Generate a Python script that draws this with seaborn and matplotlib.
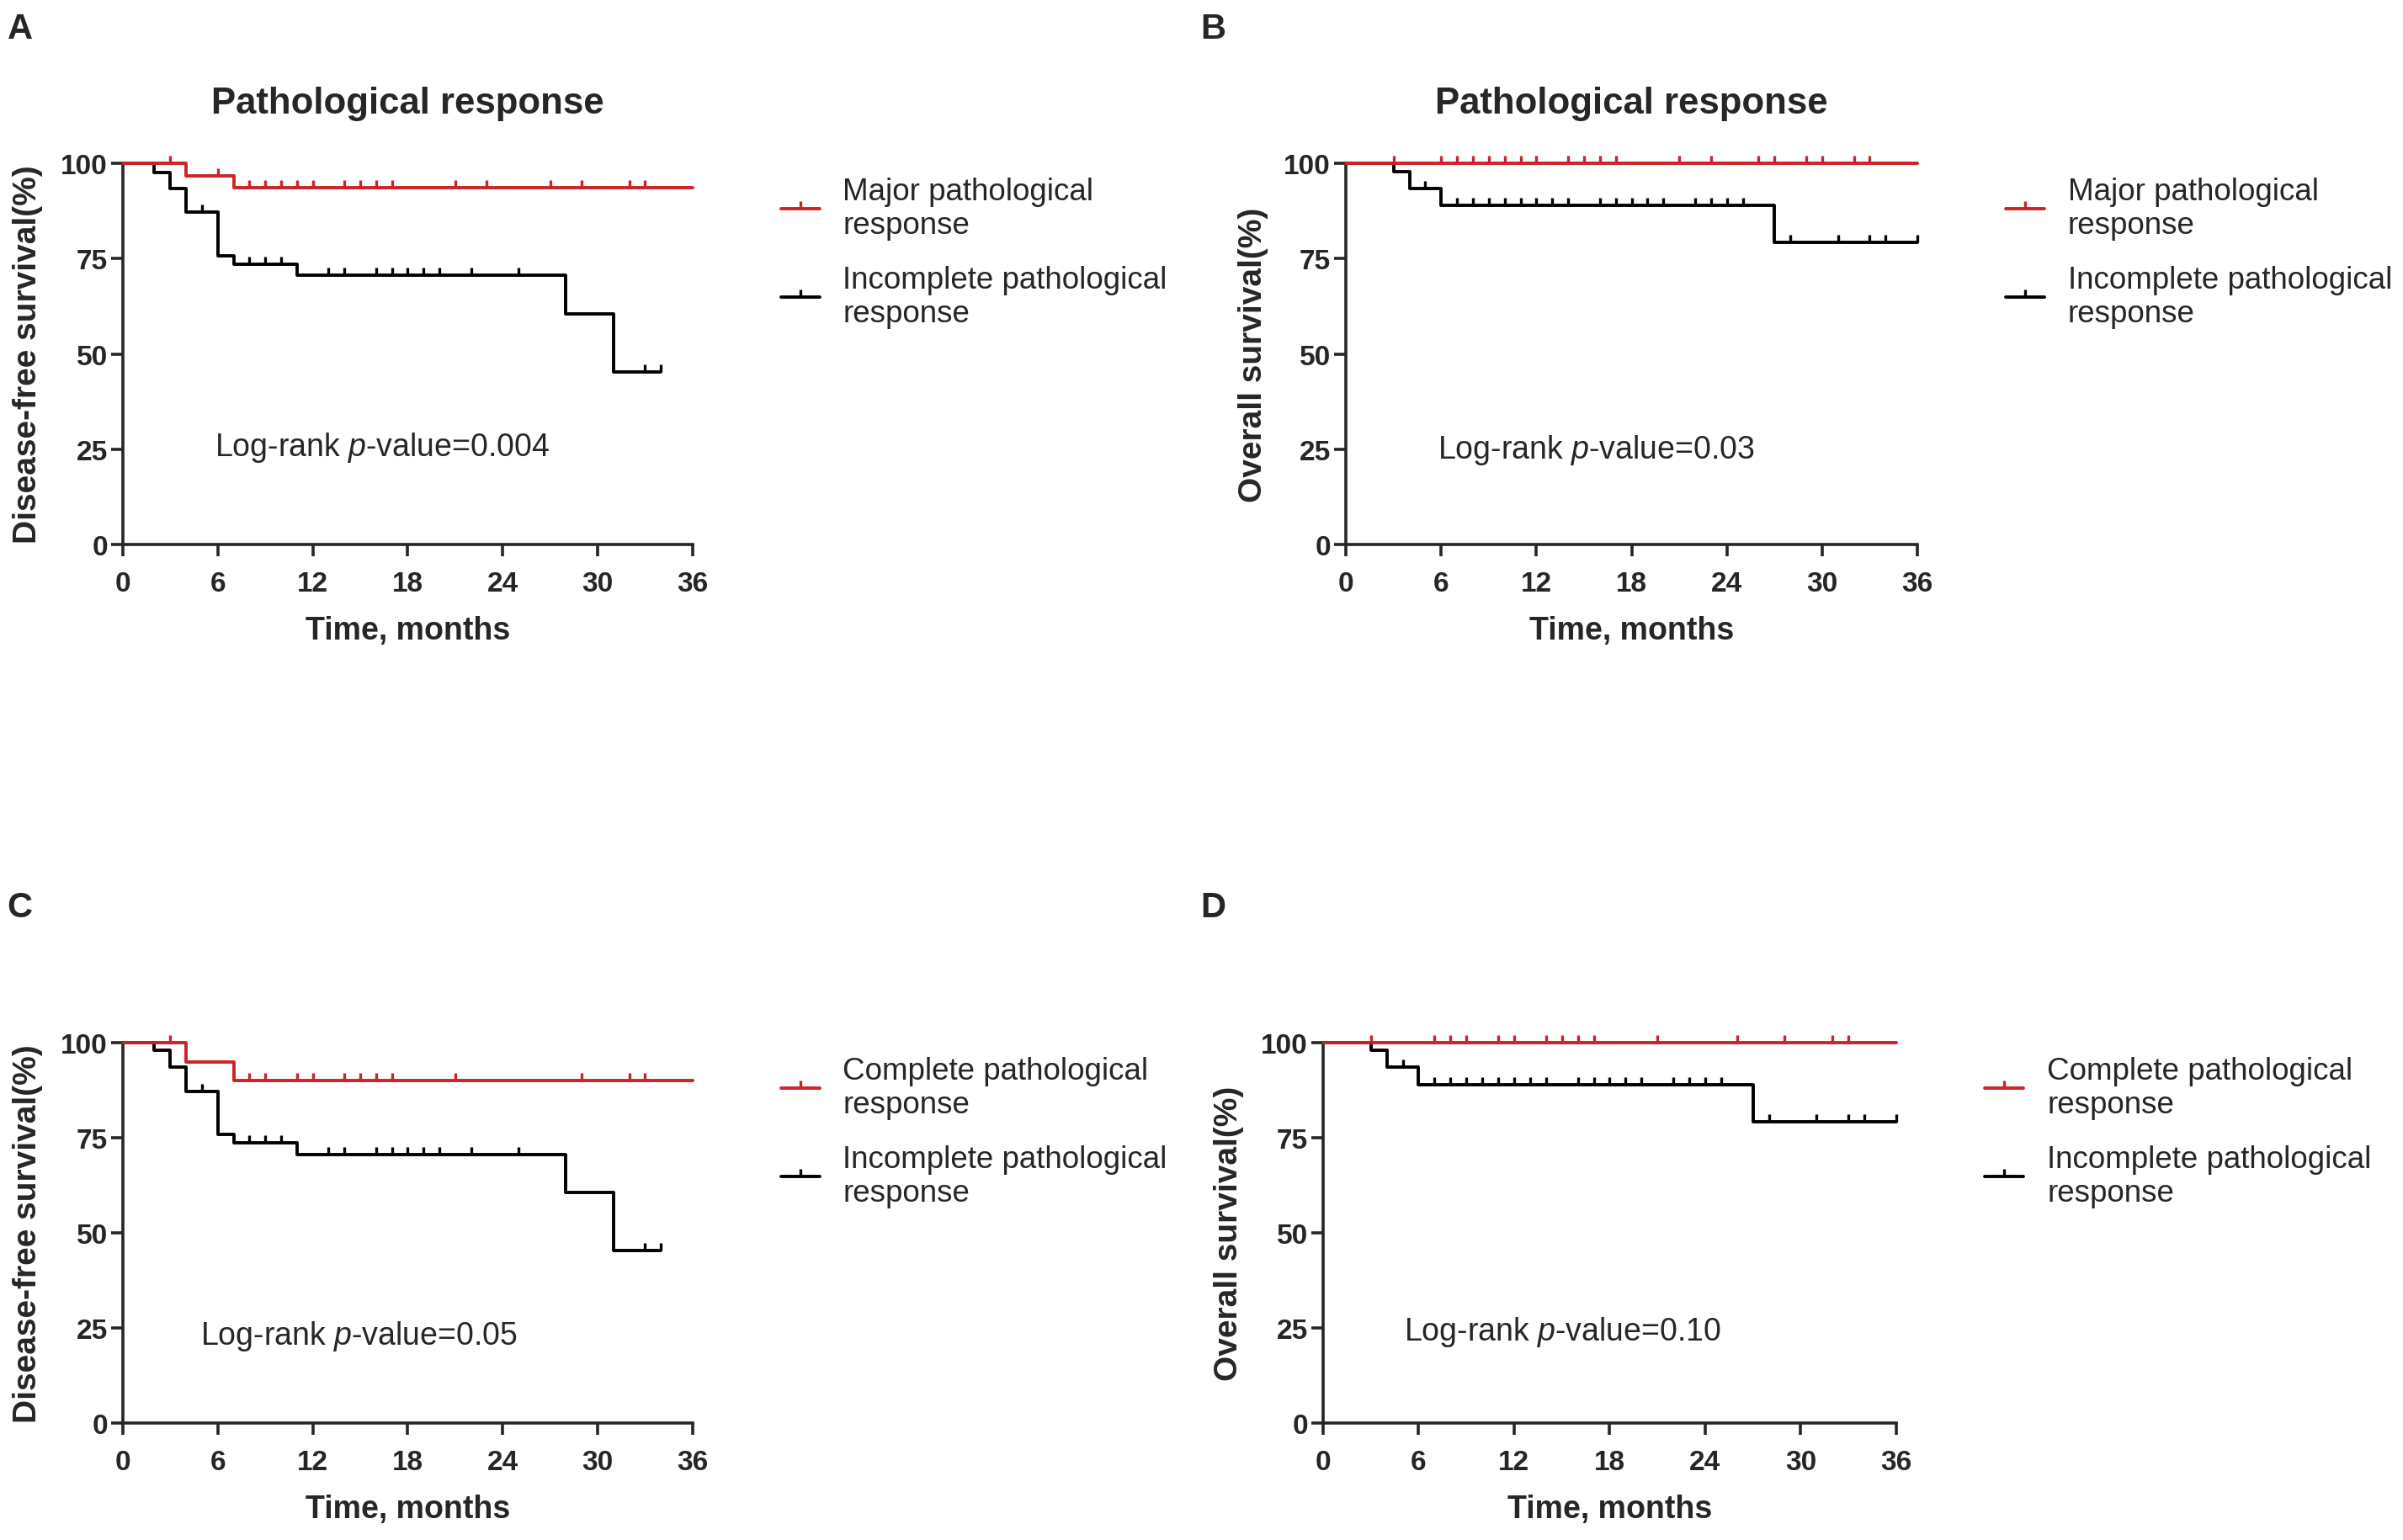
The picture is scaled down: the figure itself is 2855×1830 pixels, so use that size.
import numpy as np
import pandas as pd
import matplotlib
matplotlib.use("Agg")
import matplotlib.pyplot as plt
from matplotlib.path import Path
from matplotlib.lines import Line2D
import seaborn as sns

# Kaplan-Meier step curves (time in months, survival in %)
# Panel A: disease-free survival, major vs incomplete pathological response
A_red_time = [0, 4, 7, 36]
A_red_surv = [100, 96.8, 93.6, 93.6]
A_red_cens = [3, 6, 8, 9, 10, 11, 12, 14, 15, 16, 17, 21, 23, 27, 29, 32, 33]
A_blk_time = [0, 2, 3, 4, 6, 7, 11, 28, 31, 34]
A_blk_surv = [100, 97.7, 93.4, 87.2, 75.8, 73.6, 70.7, 60.6, 45.4, 45.4]
A_blk_cens = [5, 8, 9, 10, 13, 14, 16, 17, 18, 19, 20, 22, 25, 33, 34]

# Panel B: overall survival, major vs incomplete
B_red_time = [0, 36]
B_red_surv = [100, 100]
B_red_cens = [3, 6, 7, 8, 9, 10, 11, 12, 14, 15, 16, 17, 21, 23, 26, 27, 29, 30, 32, 33]
B_blk_time = [0, 3, 4, 6, 27, 36]
B_blk_surv = [100, 97.8, 93.4, 89.0, 79.3, 79.3]
B_blk_cens = [5, 7, 8, 9, 10, 11, 12, 13, 14, 16, 17, 18, 19, 20, 22, 23, 24, 25,
              28, 31, 33, 34, 36]

# Panel C: disease-free survival, complete vs incomplete
C_red_time = [0, 4, 7, 36]
C_red_surv = [100, 94.9, 90.0, 90.0]
C_red_cens = [3, 8, 9, 11, 12, 14, 15, 16, 17, 21, 29, 32, 33]
C_blk_time = [0, 2, 3, 4, 6, 7, 11, 28, 31, 34]
C_blk_surv = [100, 97.9, 93.5, 87.1, 75.8, 73.6, 70.6, 60.6, 45.4, 45.4]
C_blk_cens = [5, 8, 9, 10, 13, 14, 16, 17, 18, 19, 20, 22, 25, 33, 34]

# Panel D: overall survival, complete vs incomplete
D_red_time = [0, 36]
D_red_surv = [100, 100]
D_red_cens = [3, 7, 8, 9, 11, 12, 14, 15, 16, 17, 21, 26, 29, 32, 33]
D_blk_time = [0, 3, 4, 6, 27, 36]
D_blk_surv = [100, 97.9, 93.5, 89.0, 79.2, 79.2]
D_blk_cens = [5, 7, 8, 9, 10, 11, 12, 13, 14, 16, 17, 18, 19, 20, 22, 23, 24, 25,
              28, 31, 33, 34, 36]

panel_letters = ["A", "B", "C", "D"]
titles = ["Pathological response", "Pathological response", "", ""]
ylabels = ["Disease-free survival(%)", "Overall survival(%)",
           "Disease-free survival(%)", "Overall survival(%)"]
red_labels = ["Major pathological\nresponse", "Major pathological\nresponse",
              "Complete pathological\nresponse", "Complete pathological\nresponse"]
blk_label = "Incomplete pathological\nresponse"
pvalues = ["0.004", "0.03", "0.05", "0.10"]
ptext_pos = [(5.8, 25.7), (5.8, 24.9), (4.9, 23.0), (5.1, 24.2)]
xticks = [0, 6, 12, 18, 24, 30, 36]
yticks = [0, 25, 50, 75, 100]

RED = "#cc2229"
BLACK = "#000000"

sns.set_style("ticks")
plt.rcParams["font.family"] = ["Liberation Sans", "DejaVu Sans"]
plt.rcParams["mathtext.fontset"] = "custom"
plt.rcParams["mathtext.it"] = "Liberation Sans:italic"
plt.rcParams["mathtext.rm"] = "Liberation Sans"

tick = Path([(0, 0), (0, 1)])


def step_value(times, surv, t):
    i = np.searchsorted(times, t, side="right") - 1
    return surv[i]


def km(ax, times, surv, cens, color):
    df = pd.DataFrame({"t": times, "s": surv})
    sns.lineplot(data=df, x="t", y="s", drawstyle="steps-post", estimator=None,
                 sort=False, color=color, linewidth=2.8, ax=ax, clip_on=False,
                 zorder=3)
    cdf = pd.DataFrame({"t": cens,
                        "s": [step_value(times, surv, c) for c in cens]})
    sns.scatterplot(data=cdf, x="t", y="s", marker=tick, s=13 ** 2, color=color,
                    edgecolor=color, linewidth=2.4, ax=ax, clip_on=False,
                    zorder=4)


fig = plt.figure(figsize=(28.55, 18.31), dpi=100)
rects = [
    [0.0511, 0.646, 0.2371, 0.2474],
    [0.5601, 0.646, 0.2378, 0.2474],
    [0.0511, 0.0759, 0.2371, 0.2469],
    [0.5506, 0.0759, 0.2385, 0.2469],
]
data = [
    (A_red_time, A_red_surv, A_red_cens, A_blk_time, A_blk_surv, A_blk_cens),
    (B_red_time, B_red_surv, B_red_cens, B_blk_time, B_blk_surv, B_blk_cens),
    (C_red_time, C_red_surv, C_red_cens, C_blk_time, C_blk_surv, C_blk_cens),
    (D_red_time, D_red_surv, D_red_cens, D_blk_time, D_blk_surv, D_blk_cens),
]
ylabel_x = [-0.14, -0.135, -0.14, -0.138]
letter_pos = [(0.003, 0.981), (0.4995, 0.981), (0.003, 0.4105), (0.4995, 0.4105)]

for k in range(4):
    ax = fig.add_axes(rects[k])
    rt, rs, rc, bt, bs, bc = data[k]
    km(ax, bt, bs, bc, BLACK)
    km(ax, rt, rs, rc, RED)

    ax.set_xlim(0, 36)
    ax.set_ylim(0, 100)
    ax.set_xticks(xticks)
    ax.set_yticks(yticks)
    sns.despine(ax=ax)
    for sp in ["left", "bottom"]:
        ax.spines[sp].set_linewidth(2.6)
    ax.tick_params(axis="both", length=10, width=2.6, labelsize=24)
    ax.tick_params(axis="x", pad=12)
    ax.tick_params(axis="y", pad=3)
    for lab in ax.get_xticklabels() + ax.get_yticklabels():
        lab.set_fontweight("bold")

    ax.set_xlabel("Time, months", fontsize=27, fontweight="bold")
    ax.set_ylabel(ylabels[k], fontsize=28, fontweight="bold")
    ax.xaxis.set_label_coords(0.5, -0.185)
    ax.yaxis.set_label_coords(ylabel_x[k], 0.5)
    if titles[k]:
        ax.set_title(titles[k], fontsize=31.5, fontweight="bold", pad=43)

    px, py = ptext_pos[k]
    ax.text(px, py, "Log-rank $p$-value=" + pvalues[k], fontsize=27,
            va="center", ha="left")

    handles = [
        Line2D([0], [0], color=RED, lw=2.8, marker=tick, markersize=13,
               markeredgewidth=2.4, markeredgecolor=RED),
        Line2D([0], [0], color=BLACK, lw=2.8, marker=tick, markersize=13,
               markeredgewidth=2.4, markeredgecolor=BLACK),
    ]
    ax.legend(handles, [red_labels[k], blk_label], loc="upper left",
              bbox_to_anchor=(1.155, 0.965), frameon=False, fontsize=26.5,
              handlelength=1.25, handletextpad=0.75, labelspacing=0.8,
              borderpad=0, borderaxespad=0, numpoints=1)

    fig.text(letter_pos[k][0], letter_pos[k][1], panel_letters[k], fontsize=30,
             fontweight="bold", va="center", ha="left")

fig.savefig("out.png", dpi=100, facecolor="white")
